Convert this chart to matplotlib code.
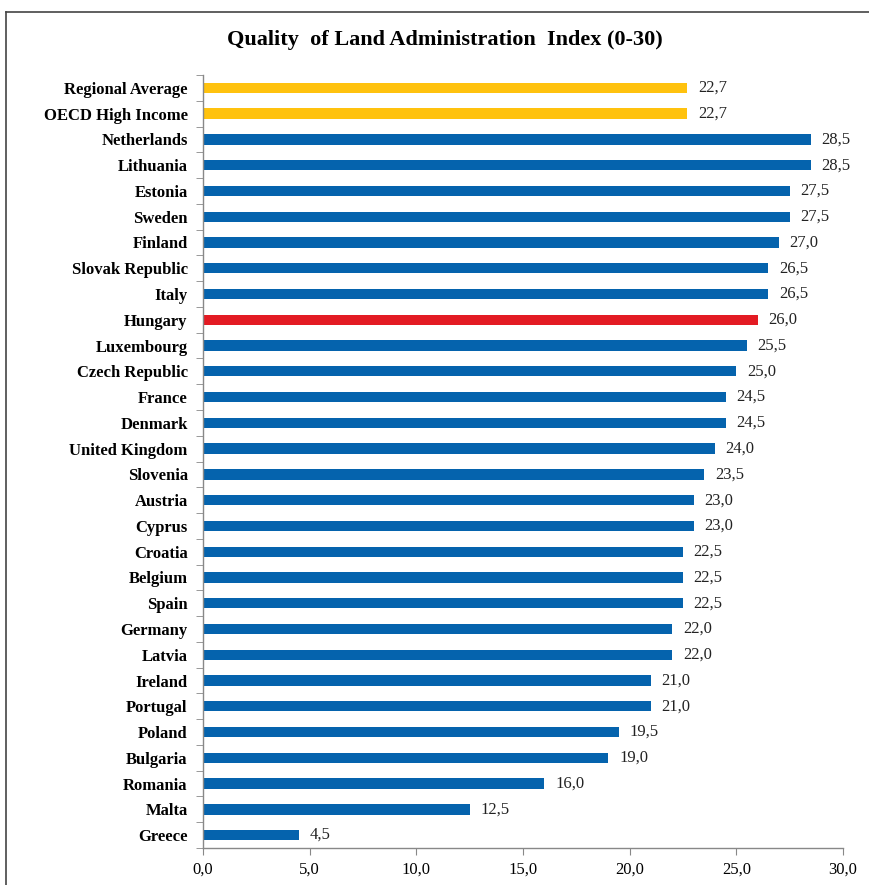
import matplotlib
matplotlib.use("Agg")
import matplotlib.pyplot as plt
from matplotlib.lines import Line2D
from matplotlib.ticker import FixedLocator, FuncFormatter

categories = ["Regional Average", "OECD High Income", "Netherlands", "Lithuania", "Estonia",
              "Sweden", "Finland", "Slovak Republic", "Italy", "Hungary", "Luxembourg",
              "Czech Republic", "France", "Denmark", "United Kingdom", "Slovenia", "Austria",
              "Cyprus", "Croatia", "Belgium", "Spain", "Germany", "Latvia", "Ireland",
              "Portugal", "Poland", "Bulgaria", "Romania", "Malta", "Greece"]
values = [22.7, 22.7, 28.5, 28.5, 27.5, 27.5, 27.0, 26.5, 26.5, 26.0, 25.5, 25.0, 24.5, 24.5,
          24.0, 23.5, 23.0, 23.0, 22.5, 22.5, 22.5, 22.0, 22.0, 21.0, 21.0, 19.5, 19.0, 16.0,
          12.5, 4.5]
x_ticks = [0, 5, 10, 15, 20, 25, 30]
title = "Quality  of Land Administration  Index (0-30)"

BLUE = "#0563AD"
YELLOW = "#FFC20E"
RED = "#E31B23"
colors = []
for c in categories:
    if c in ("Regional Average", "OECD High Income"):
        colors.append(YELLOW)
    elif c == "Hungary":
        colors.append(RED)
    else:
        colors.append(BLUE)

plt.rcParams['font.family'] = ['Liberation Serif', 'DejaVu Serif']

fig = plt.figure(figsize=(8.69, 8.85), dpi=100)
ax = fig.add_axes([203/869, 1-848/885, 640/869, (848-75)/885])

n = len(categories)
ypos = list(range(n))
ax.barh(ypos, values, height=0.4, color=colors)
ax.set_ylim(n - 0.5, -0.5)
ax.set_xlim(0, 30)

for y, v in zip(ypos, values):
    ax.text(v + 0.5, y, f"{v:.1f}".replace(".", ","), va="center", ha="left",
            fontsize=12, color="#222222")

ax.set_yticks(ypos)
ax.set_yticklabels(categories, fontsize=12, fontweight="bold")
ax.yaxis.set_minor_locator(FixedLocator([i - 0.5 for i in range(n + 1)]))
ax.tick_params(axis="y", which="major", length=0, pad=11)
ax.tick_params(axis="y", which="minor", length=5, color="#888888", direction="out")

ax.xaxis.set_major_locator(FixedLocator(x_ticks))
ax.xaxis.set_major_formatter(FuncFormatter(lambda v, p: f"{v:.1f}".replace(".", ",")))
ax.tick_params(axis="x", length=5, color="#888888", labelsize=12, pad=5)

for s in ("top", "right"):
    ax.spines[s].set_visible(False)
for s in ("left", "bottom"):
    ax.spines[s].set_color("#888888")
    ax.spines[s].set_linewidth(1.0)

fig.text(445/869, 1-40/885, title, ha="center", va="center", fontsize=16, fontweight="bold")

# frame
fig.add_artist(Line2D([6/869, 1.0], [1-12/885, 1-12/885], transform=fig.transFigure, color="#444444", lw=1.2))
fig.add_artist(Line2D([6/869, 6/869], [0, 1-12/885], transform=fig.transFigure, color="#444444", lw=1.2))

fig.savefig("out.png", dpi=100)
